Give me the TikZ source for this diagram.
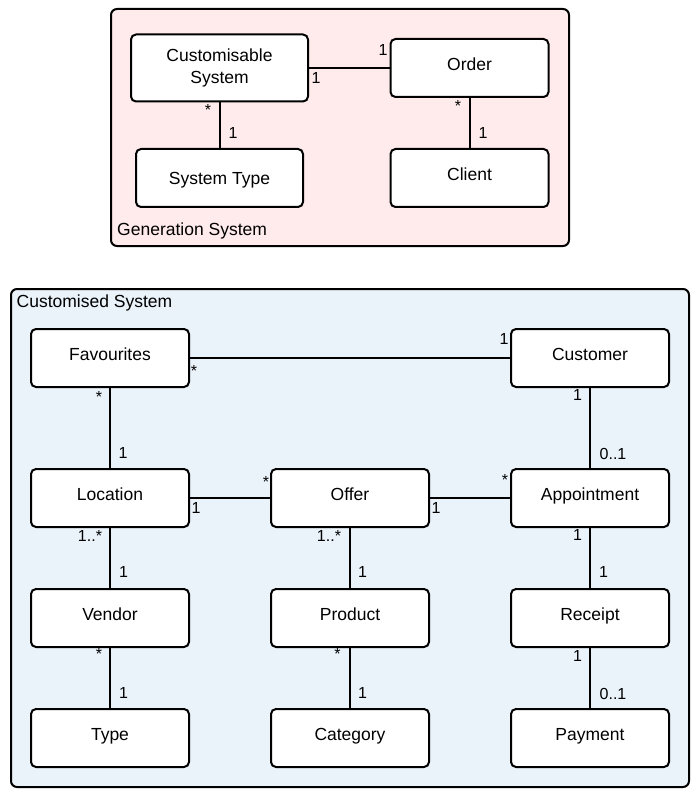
\documentclass[tikz,border=0pt]{standalone}
\usepackage{fontspec}
\setmainfont{Liberation Sans}
\definecolor{genfill}{RGB}{255,235,235}
\definecolor{custfill}{RGB}{234,242,250}
\begin{document}
\begin{tikzpicture}[x=1pt,y=-1pt]
\tikzstyle{every node}+=[inner sep=0pt]
\tikzstyle{cls}=[draw, line width=2, rounded corners=5, fill=white, minimum width=158, minimum height=58, font=\fontsize{17.5}{22}\selectfont, align=center]
\tikzstyle{one}=[text height=0.75em, text depth=0.25em]
\tikzstyle{mult}=[font=\fontsize{16}{19}\selectfont, text height=0.72em, text depth=0pt]
\tikzstyle{pkg}=[draw, line width=2, rounded corners=6]
\tikzstyle{pkgname}=[anchor=base west, font=\fontsize{17.5}{22}\selectfont]
\tikzstyle{assoc}=[line width=2]
\useasboundingbox (0,0) rectangle (700,794);
% generation system
\draw[pkg, fill=genfill] (111,9) rectangle (569,246);
\node[pkgname] (gen) at (117,235) {Generation System};
\node[cls, minimum width=177, minimum height=67] (cs) at (219.5,68) {Customisable\\System};
\node[cls, one, minimum width=167, text height=1.5em] (st) at (219.5,178) {System Type};
\node[cls, one] (ord) at (469.5,68) {Order};
\node[cls, one] (cli) at (469.5,178) {Client};
\draw[assoc] (cs) -- (ord);
\draw[assoc] (cs) -- (st);
\draw[assoc] (ord) -- (cli);
\node[mult] (m1) at (316,80) {1};
\node[mult] (m2) at (383,52) {1};
\node[mult] (m3) at (208,112) {*};
\node[mult] (m4) at (233,135) {1};
\node[mult] (m5) at (458,108) {*};
\node[mult] (m6) at (483,135) {1};
% customised system
\draw[pkg, fill=custfill] (11,289) rectangle (689,787);
\node[pkgname] (cust) at (16.5,307) {Customised System};
\node[cls, one] (fav) at (110,358) {Favourites};
\node[cls, one] (cus) at (590,358) {Customer};
\node[cls, one] (loc) at (110,498) {Location};
\node[cls, one] (off) at (350,498) {Offer};
\node[cls, one] (app) at (590,498) {Appointment};
\node[cls, one] (ven) at (110,618) {Vendor};
\node[cls, one] (pro) at (350,618) {Product};
\node[cls, one] (rec) at (590,618) {Receipt};
\node[cls, one] (typ) at (110,738) {Type};
\node[cls, one] (cat) at (350,738) {Category};
\node[cls, one] (pay) at (590,738) {Payment};
\draw[assoc] (fav) -- (cus);
\draw[assoc] (fav) -- (loc);
\draw[assoc] (cus) -- (app);
\draw[assoc] (loc) -- (off);
\draw[assoc] (off) -- (app);
\draw[assoc] (loc) -- (ven);
\draw[assoc] (off) -- (pro);
\draw[assoc] (app) -- (rec);
\draw[assoc] (ven) -- (typ);
\draw[assoc] (pro) -- (cat);
\draw[assoc] (rec) -- (pay);
\node[mult] (m7) at (194,373) {*};
\node[mult] (m8) at (504,341) {1};
\node[mult] (m9) at (99,399) {*};
\node[mult] (m10) at (123,455) {1};
\node[mult] (m11) at (577.5,397) {1};
\node[mult] (m12) at (613,456) {0..1};
\node[mult] (m13) at (196,510) {1};
\node[mult] (m14) at (266,484) {*};
\node[mult] (m15) at (436,510) {1};
\node[mult] (m16) at (505,482) {*};
\node[mult] (m17) at (90,538) {1..*};
\node[mult] (m18) at (123.5,574) {1};
\node[mult] (m19) at (329,538) {1..*};
\node[mult] (m20) at (362.5,574) {1};
\node[mult] (m21) at (577.5,537) {1};
\node[mult] (m22) at (603.5,574) {1};
\node[mult] (m23) at (99,656) {*};
\node[mult] (m24) at (123.5,695) {1};
\node[mult] (m25) at (337.5,656) {*};
\node[mult] (m26) at (362.5,695) {1};
\node[mult] (m27) at (577.5,657.5) {1};
\node[mult] (m28) at (613,695.5) {0..1};
\end{tikzpicture}
\end{document}
